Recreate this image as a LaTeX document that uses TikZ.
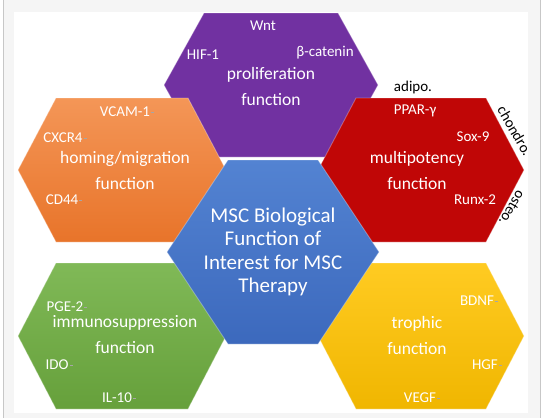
\documentclass[tikz,border=0pt]{standalone}
\usepackage{fontspec}
\setmainfont{Carlito}
\usepackage{tikz}
\usetikzlibrary{positioning}
\usetikzlibrary{calc}
\definecolor{hexpurple}{HTML}{7131A1}
\definecolor{hexorangetop}{HTML}{F49657}
\definecolor{hexorangebot}{HTML}{E8742A}
\definecolor{hexred}{HTML}{C00606}
\definecolor{hexgreentop}{HTML}{80B957}
\definecolor{hexgreenbot}{HTML}{66A03B}
\definecolor{hexyellowtop}{HTML}{FFCB22}
\definecolor{hexyellowbot}{HTML}{F0B600}
\definecolor{hexbluetop}{HTML}{5383D2}
\definecolor{hexbluebot}{HTML}{3C69BD}
\tikzstyle{hex}=[draw=white, draw opacity=0.3, line width=0.9pt, line join=miter]
\tikzstyle{title}=[text=white, font=\fontsize{17.5}{21}\selectfont, align=center]
\tikzstyle{core}=[text=white, font=\fontsize{21}{23.5}\selectfont, align=center]
\tikzstyle{tag}=[text=white, font=\fontsize{15}{18}\selectfont, inner sep=1pt]
\tikzstyle{tagtick}=[draw=black!35, line width=0.6pt]
\tikzstyle{outer}=[text=black, font=\fontsize{15}{18}\selectfont, inner sep=0pt]

\begin{document}
\begin{tikzpicture}[x=1pt, y=-1pt]
    \useasboundingbox (0,0) rectangle (547,418);
    % slide frame
    \fill[black!4] (3,0) rectangle (540,418);
    \fill[white] (14,12) rectangle (528,413);
    \draw[black!22] (3,0) -- (3,418);
    \draw[black!22] (540,0) -- (540,418);

    % First we draw the hexagons, the centre one last
    \foreach \cx/\cy/\hw/\he/\hh/\ct/\cb in {271/85/107/67/72/hexpurple/hexpurple,
        122/170/104/66/72/hexorangetop/hexorangebot, 421/170/103/65/72/hexred/hexred,
        122/336/104/66/73/hexgreentop/hexgreenbot, 421/336/103/65/73/hexyellowtop/hexyellowbot,
        273/252/106/45/92/hexbluetop/hexbluebot}
        \path[hex, top color=\ct, bottom color=\cb] ({\cx-\hw},\cy) -- ({\cx-\he},{\cy-\hh})
            -- ({\cx+\he},{\cy-\hh}) -- ({\cx+\hw},\cy) -- ({\cx+\he},{\cy+\hh})
            -- ({\cx-\he},{\cy+\hh}) -- cycle;

    % function names
    \node[title] (prolif) at (271,86) {proliferation\\[5pt]function};
    \node[title] (homing) at (125,170) {homing/migration\\[5pt]function};
    \node[title] (multipot) at (417,170) {multipotency\\[5pt]function};
    \node[title] (immuno) at (125,335) {immunosuppression\\[5pt]function};
    \node[title] (trophic) at (417,335) {trophic\\[5pt]function};
    \node[core] (msc) at (273,252) {MSC Biological\\Function of\\Interest for MSC\\Therapy};

    % the factors in each hexagon
    \foreach \pos/\name/\txt in {{(263,26)/wnt/Wnt}, {(203,55)/hif/HIF-1}, {(325,53)/bcat/β-catenin},
        {(125,112)/vcam/VCAM-1}, {(63,138)/cxcr/CXCR4}, {(62,200)/cd/CD44},
        {(65,307)/pge/PGE-2}, {(57,365)/ido/IDO}, {(117,398)/il/IL-10},
        {(415,111)/ppar/PPAR-γ}, {(473,137)/sox/Sox-9}, {(475,200)/runx/Runx-2},
        {(477,301)/bdnf/BDNF}, {(485,365)/hgf/HGF}, {(420,398)/vegf/VEGF}}
        \node[tag] (\name) at \pos {\txt};
    \foreach \name in {vcam,cxcr,cd,pge,ido,il,bdnf,hgf,vegf}
        \draw[tagtick] (\name.east) -- ++(3,0);

    % lineages round the red one
    \node[outer] (adipo) at (413,87) {adipo.};
    \node[outer, rotate=-60] (chondro) at (515,131) {chondro.};
    \node[outer, rotate=-120] (osteo) at (512,208) {osteo.};
\end{tikzpicture}
\end{document}
